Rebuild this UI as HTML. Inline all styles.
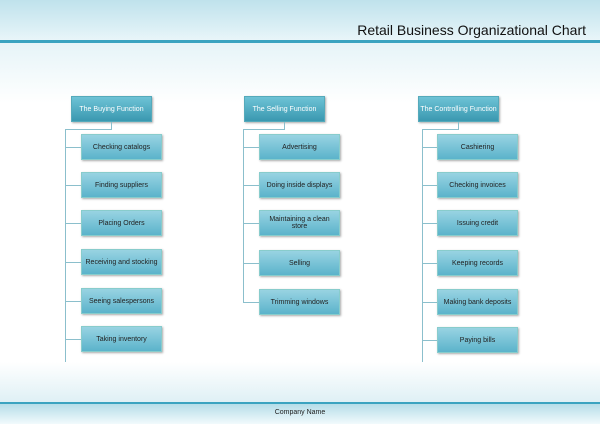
<!DOCTYPE html>
<html><head><style>
body{margin:0;width:600px;height:424px;position:relative;overflow:hidden;background:#fff;font-family:"Liberation Sans",sans-serif}
.hd{position:absolute;left:0;top:0;width:600px;height:40px;background:linear-gradient(#bfe2ec,#e8f5f9)}
.l1{position:absolute;left:0;top:40px;width:600px;height:3px;background:#3aa3c0}
.g1{position:absolute;left:0;top:43px;width:600px;height:60px;background:linear-gradient(#e6f4f8,#fff)}
.g2{position:absolute;left:0;top:362px;width:600px;height:40px;background:linear-gradient(#fff,#dff0f5)}
.l2{position:absolute;left:0;top:402px;width:600px;height:2px;background:#3aa3c0}
.ft{position:absolute;left:0;top:404px;width:600px;height:20px;background:linear-gradient(#b5dde8,#f2fafc);font-size:7px;text-align:center;line-height:18px;color:#222}
.t{position:absolute;right:14px;top:22px;font-size:14px;color:#111}
.b{position:absolute;display:flex;align-items:center;justify-content:center;text-align:center;font-size:7px;box-shadow:1px 1px 2px #aaa;box-sizing:border-box}
.h{width:81px;height:26px;color:#fff;background:linear-gradient(#6ec3d6,#3a98b0);border:1px solid #5ab}
.c{width:81px;height:26px;color:#222;background:linear-gradient(#98d3e2,#5bb3cb);border:1px solid #8cc}
.v{position:absolute;width:1px;background:#8bbfcc}
.hz{position:absolute;height:1px;background:#8bbfcc}
</style></head><body>
<div class="hd"></div><div class="l1"></div><div class="g1"></div><div class="g2"></div><div class="l2"></div>
<div class="ft">Company Name</div>
<div class="t">Retail Business Organizational Chart</div>

<div class="b h" style="left:71px;top:96px">The Buying Function</div>
<div class="b h" style="left:244px;top:96px">The Selling Function</div>
<div class="b h" style="left:418px;top:96px">The Controlling Function</div>

<div class="v" style="left:111px;top:122px;height:7px"></div><div class="hz" style="left:65px;top:129px;width:47px"></div>
<div class="v" style="left:65px;top:129px;height:233px"></div>
<div class="v" style="left:284px;top:122px;height:7px"></div><div class="hz" style="left:243px;top:129px;width:42px"></div>
<div class="v" style="left:243px;top:129px;height:173px"></div>
<div class="v" style="left:458px;top:122px;height:7px"></div><div class="hz" style="left:422px;top:129px;width:37px"></div>
<div class="v" style="left:422px;top:129px;height:233px"></div>

<div class="hz" style="left:65px;top:147px;width:16px"></div><div class="b c" style="left:81px;top:134px">Checking catalogs</div>
<div class="hz" style="left:65px;top:185px;width:16px"></div><div class="b c" style="left:81px;top:172px">Finding suppliers</div>
<div class="hz" style="left:65px;top:223px;width:16px"></div><div class="b c" style="left:81px;top:210px">Placing Orders</div>
<div class="hz" style="left:65px;top:262px;width:16px"></div><div class="b c" style="left:81px;top:249px">Receiving and stocking</div>
<div class="hz" style="left:65px;top:301px;width:16px"></div><div class="b c" style="left:81px;top:288px">Seeing salespersons</div>
<div class="hz" style="left:65px;top:339px;width:16px"></div><div class="b c" style="left:81px;top:326px">Taking inventory</div>

<div class="hz" style="left:243px;top:147px;width:16px"></div><div class="b c" style="left:259px;top:134px">Advertising</div>
<div class="hz" style="left:243px;top:185px;width:16px"></div><div class="b c" style="left:259px;top:172px">Doing inside displays</div>
<div class="hz" style="left:243px;top:223px;width:16px"></div><div class="b c" style="left:259px;top:210px">Maintaining a clean<br>store</div>
<div class="hz" style="left:243px;top:263px;width:16px"></div><div class="b c" style="left:259px;top:250px">Selling</div>
<div class="hz" style="left:243px;top:302px;width:16px"></div><div class="b c" style="left:259px;top:289px">Trimming windows</div>

<div class="hz" style="left:422px;top:147px;width:15px"></div><div class="b c" style="left:437px;top:134px">Cashiering</div>
<div class="hz" style="left:422px;top:185px;width:15px"></div><div class="b c" style="left:437px;top:172px">Checking invoices</div>
<div class="hz" style="left:422px;top:223px;width:15px"></div><div class="b c" style="left:437px;top:210px">Issuing credit</div>
<div class="hz" style="left:422px;top:263px;width:15px"></div><div class="b c" style="left:437px;top:250px">Keeping records</div>
<div class="hz" style="left:422px;top:302px;width:15px"></div><div class="b c" style="left:437px;top:289px">Making bank deposits</div>
<div class="hz" style="left:422px;top:340px;width:15px"></div><div class="b c" style="left:437px;top:327px">Paying bills</div>
</body></html>
